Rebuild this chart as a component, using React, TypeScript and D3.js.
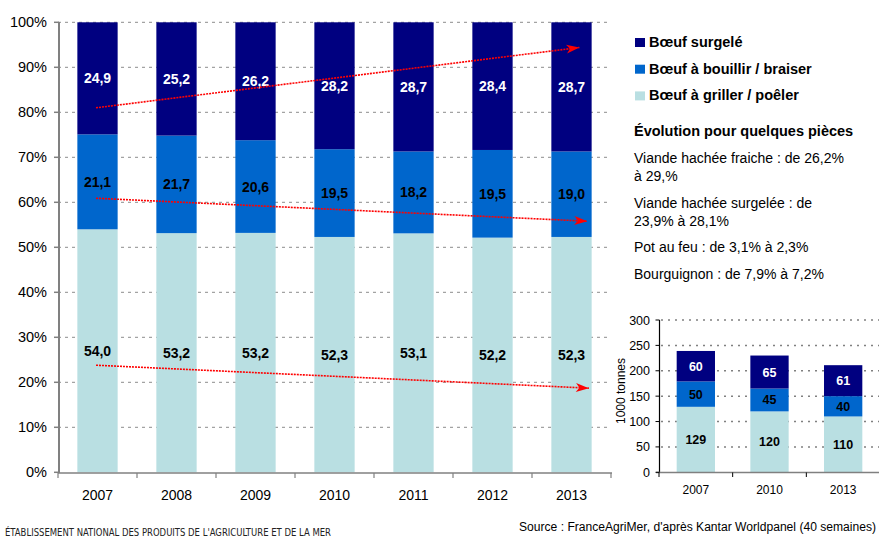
import React from 'react';
import * as d3 from 'd3';

const years = ['2007', '2008', '2009', '2010', '2011', '2012', '2013'];
const griller = [54.0, 53.2, 53.2, 52.3, 53.1, 52.2, 52.3];
const bouillir = [21.1, 21.7, 20.6, 19.5, 18.2, 19.5, 19.0];
const surgele = [24.9, 25.2, 26.2, 28.2, 28.7, 28.4, 28.7];
const pctTicks = [0, 10, 20, 30, 40, 50, 60, 70, 80, 90, 100];

const smallYears = ['2007', '2010', '2013'];
const smallGriller = [129, 120, 110];
const smallBouillir = [50, 45, 40];
const smallSurgele = [60, 65, 61];
const smallTicks = [0, 50, 100, 150, 200, 250, 300];

// trend arrows: start / end level (%), end overshoot as fraction of a band step
const arrowFrom = [81.0, 60.9, 23.8];
const arrowTo = [94.4, 55.8, 18.7];
const arrowOvershoot = [0.1, 0.2, 0.22];

const seriesNames = ['Bœuf surgelé', 'Bœuf à bouillir / braiser', 'Bœuf à griller / poêler'];
const noteTitle = 'Évolution pour quelques pièces';
const notes = [
  ['Viande hachée fraiche : de 26,2%', 'à 29,%'],
  ['Viande hachée surgelée : de', '23,9% à 28,1%'],
  ['Pot au feu : de 3,1% à 2,3%'],
  ['Bourguignon : de 7,9% à 7,2%'],
];

const C_DARK = '#000080';
const C_MID = '#0066CC';
const C_LIGHT = '#B9DFE2';
const FONT = 'Arial, "Liberation Sans", Helvetica, sans-serif';
const keys = ['griller', 'bouillir', 'surgele'];
const colors: Record<string, string> = { griller: C_LIGHT, bouillir: C_MID, surgele: C_DARK };
const labelColors: Record<string, string> = { griller: '#000', bouillir: '#000', surgele: '#fff' };

export default function App() {
  // main chart
  const x = d3.scaleBand<string>().domain(years).range([58, 611]).paddingInner(0.49).paddingOuter(0.245);
  const xStep = d3.scaleBand<string>().domain(years).range([58, 611]);
  const y = d3.scaleLinear().domain([0, 100]).range([472.3, 22.3]);
  const rows = years.map((yr, i) => ({ year: yr, griller: griller[i], bouillir: bouillir[i], surgele: surgele[i] }));
  const stack = d3.stack<any>().keys(keys).offset(d3.stackOffsetExpand);
  const series = stack(rows);

  // small chart
  const sx = d3.scaleBand<string>().domain(smallYears).range([659, 880]).paddingInner(0.48).paddingOuter(0.24);
  const sxStep = d3.scaleBand<string>().domain(smallYears).range([659, 880]);
  const sy = d3.scaleLinear().domain([0, 300]).range([472.3, 320]);
  const srows = smallYears.map((yr, i) => ({ year: yr, griller: smallGriller[i], bouillir: smallBouillir[i], surgele: smallSurgele[i] }));
  const sseries = d3.stack<any>().keys(keys)(srows);

  const center = (yr: string) => (xStep(yr) as number) + xStep.bandwidth() / 2;
  const legendColors = [C_DARK, C_MID, C_LIGHT];

  return (
    <svg width={879} height={541} style={{ position: 'absolute', left: 0, top: 0, background: '#fff' }} fontFamily={FONT}>
      <defs>
        <marker id="arr" viewBox="-14 -5 15 10" refX={0} refY={0} markerWidth={15} markerHeight={10} markerUnits="userSpaceOnUse" orient="auto">
          <path d="M0,0 L-13,-4.5 L-9.5,0 L-13,4.5 Z" fill="#FF0000" />
        </marker>
      </defs>

      {/* main gridlines */}
      {pctTicks.filter(t => t > 0).map(t => (
        <line key={t} x1={58} x2={611} y1={y(t)} y2={y(t)} stroke="#8c8c8c" strokeWidth={1} strokeDasharray="3,4" />
      ))}

      {/* bars */}
      {series.map(s => s.map((d, i) => (
        <rect key={s.key + i} x={x(years[i])} width={x.bandwidth()} y={y(d[1] * 100)} height={y(d[0] * 100) - y(d[1] * 100)} fill={colors[s.key]} />
      )))}

      {/* value labels */}
      {series.map(s => s.map((d, i) => (
        <text key={'l' + s.key + i} x={(x(years[i]) as number) + x.bandwidth() / 2} y={y(((d[0] + d[1]) / 2) * 100) + 5}
          textAnchor="middle" fontSize={14} fontWeight="bold" fill={labelColors[s.key]}>
          {(rows[i] as any)[s.key].toFixed(1).replace('.', ',')}
        </text>
      )))}

      {/* axes */}
      <line x1={59} x2={59} y1={22} y2={473} stroke="#808080" strokeWidth={2} />
      <line x1={58} x2={612} y1={473} y2={473} stroke="#808080" strokeWidth={1.5} />
      {pctTicks.map(t => (
        <g key={'yt' + t}>
          <line x1={54} x2={59} y1={y(t)} y2={y(t)} stroke="#808080" strokeWidth={1.5} />
          <text x={47} y={y(t) + 5} textAnchor="end" fontSize={14.5} fill="#000">{t}%</text>
        </g>
      ))}
      {years.map(yr => (
        <g key={'xt' + yr}>
          <line x1={xStep(yr) as number} x2={xStep(yr) as number} y1={473} y2={478} stroke="#808080" strokeWidth={1.2} />
          <text x={(x(yr) as number) + x.bandwidth() / 2} y={500} textAnchor="middle" fontSize={14} fill="#000">{yr}</text>
        </g>
      ))}
      <line x1={611} x2={611} y1={473} y2={478} stroke="#808080" strokeWidth={1.2} />

      {/* trend arrows */}
      {arrowFrom.map((v, i) => (
        <line key={'ar' + i} x1={center(years[0]) - 1.5} y1={y(v)}
          x2={center(years[years.length - 1]) + arrowOvershoot[i] * xStep.bandwidth()} y2={y(arrowTo[i])}
          stroke="#FF0000" strokeWidth={1.6} strokeDasharray="2,1" markerEnd="url(#arr)" />
      ))}

      {/* legend */}
      {seriesNames.map((n, i) => (
        <g key={'lg' + i}>
          <rect x={635} y={38 + i * 26.7} width={10} height={9} fill={legendColors[i]} />
          <text x={649} y={47 + i * 26.7} fontSize={14.5} fontWeight="bold" fill="#000">{n}</text>
        </g>
      ))}

      {/* notes */}
      <text x={634} y={136} fontSize={14.5} fontWeight="bold" fill="#000">{noteTitle}</text>
      {(() => {
        const out: any[] = [];
        let yy = 163;
        notes.forEach((para, pi) => {
          para.forEach((ln, li) => {
            out.push(<text key={'n' + pi + '-' + li} x={634} y={yy} fontSize={14} fill="#000">{ln}</text>);
            yy += 18;
          });
          yy += 8.5;
        });
        return out;
      })()}

      {/* small chart */}
      {smallTicks.filter(t => t > 0).map(t => (
        <line key={'sg' + t} x1={661} x2={880} y1={sy(t)} y2={sy(t)} stroke="#808080" strokeWidth={1.5} strokeDasharray="2,5" />
      ))}
      {sseries.map(s => s.map((d, i) => (
        <rect key={'s' + s.key + i} x={sx(smallYears[i])} width={sx.bandwidth()} y={sy(d[1])} height={sy(d[0]) - sy(d[1])} fill={colors[s.key]} />
      )))}
      {sseries.map(s => s.map((d, i) => (
        <text key={'sl' + s.key + i} x={(sx(smallYears[i]) as number) + sx.bandwidth() / 2} y={sy((d[0] + d[1]) / 2) + 4.5}
          textAnchor="middle" fontSize={12.5} fontWeight="bold" fill={labelColors[s.key]}>
          {(srows[i] as any)[s.key]}
        </text>
      )))}
      <line x1={659.5} x2={659.5} y1={320} y2={473} stroke="#000" strokeWidth={1.2} />
      <line x1={656} x2={880} y1={472.5} y2={472.5} stroke="#808080" strokeWidth={1.5} />
      {smallTicks.map(t => (
        <g key={'st' + t}>
          <line x1={655.5} x2={659.5} y1={sy(t)} y2={sy(t)} stroke="#000" strokeWidth={1} />
          <text x={650} y={sy(t) + 4.5} textAnchor="end" fontSize={12.5} fill="#000">{t}</text>
        </g>
      ))}
      {smallYears.map(yr => (
        <g key={'sxt' + yr}>
          <line x1={sxStep(yr) as number} x2={sxStep(yr) as number} y1={472.5} y2={477} stroke="#000" strokeWidth={1} />
          <text x={(sx(yr) as number) + sx.bandwidth() / 2} y={494} textAnchor="middle" fontSize={12} fill="#000">{yr}</text>
        </g>
      ))}
      <text transform="translate(625,391) rotate(-90)" textAnchor="middle" fontSize={12} fill="#000">1000 tonnes</text>

      {/* footer */}
      <text x={5} y={535.5} fontSize={10.5} fill="#222" fontFamily='"DejaVu Sans Condensed", "DejaVu Sans", sans-serif'
        textLength={326} lengthAdjust="spacingAndGlyphs">ÉTABLISSEMENT NATIONAL DES PRODUITS DE L'AGRICULTURE ET DE LA MER</text>
      <text x={876} y={531} textAnchor="end" fontSize={12} fill="#000" textLength={357} lengthAdjust="spacingAndGlyphs">Source : FranceAgriMer, d'après Kantar Worldpanel (40 semaines)</text>
    </svg>
  );
}
